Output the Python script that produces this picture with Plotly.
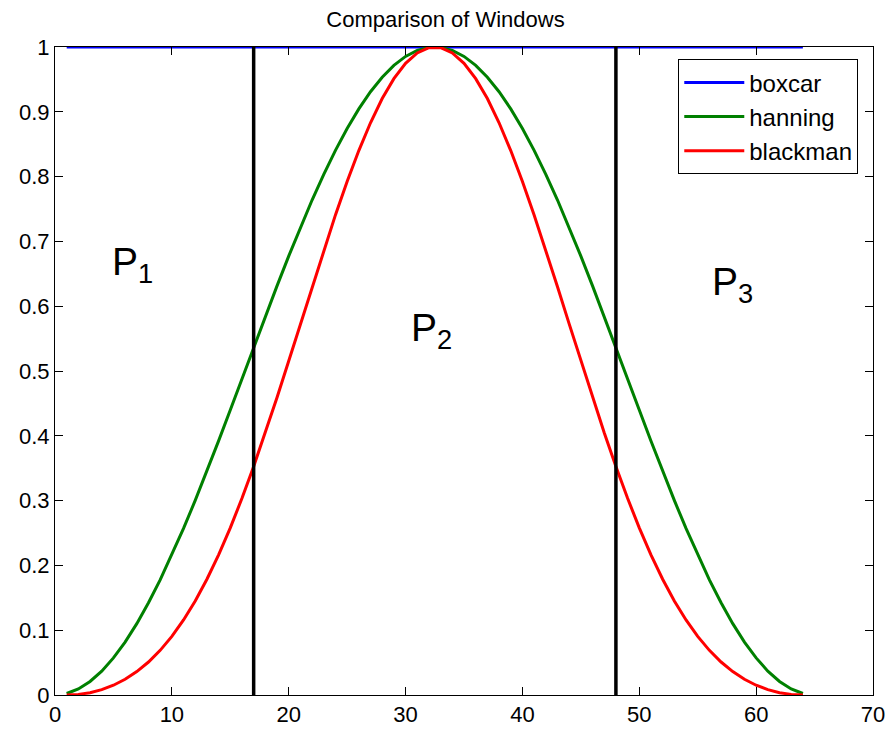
import plotly.graph_objects as go

n = list(range(1, 65))
boxcar = [1.0] * 64
hanning = [0.00233, 0.00930, 0.02088, 0.03684, 0.05727, 0.08163, 0.11016, 0.14232,
           0.17754, 0.21597, 0.25702, 0.30032, 0.34549, 0.39211, 0.43973, 0.48792,
           0.53622, 0.58418, 0.63135, 0.67730, 0.72161, 0.76384, 0.80356, 0.84047,
           0.87426, 0.90451, 0.93103, 0.95340, 0.97160, 0.98547, 0.99466, 0.99942,
           0.99942, 0.99466, 0.98547, 0.97160, 0.95340, 0.93103, 0.90451, 0.87426,
           0.84047, 0.80356, 0.76384, 0.72161, 0.67730, 0.63135, 0.58418, 0.53622,
           0.48792, 0.43973, 0.39211, 0.34549, 0.30032, 0.25702, 0.21597, 0.17754,
           0.14232, 0.11016, 0.08163, 0.05727, 0.03684, 0.02088, 0.00930, 0.00233]
blackman = [0.0000, 0.0009, 0.0036, 0.0083, 0.0151, 0.0243, 0.0361, 0.0509,
            0.0689, 0.0905, 0.1158, 0.1452, 0.1787, 0.2163, 0.2580, 0.3035,
            0.3526, 0.4046, 0.4592, 0.5155, 0.5727, 0.6300, 0.6864, 0.7409,
            0.7925, 0.8402, 0.8831, 0.9204, 0.9511, 0.9748, 0.9909, 0.9990,
            0.9990, 0.9909, 0.9748, 0.9511, 0.9204, 0.8831, 0.8402, 0.7925,
            0.7409, 0.6864, 0.6300, 0.5727, 0.5155, 0.4592, 0.4046, 0.3526,
            0.3035, 0.2580, 0.2163, 0.1787, 0.1452, 0.1158, 0.0905, 0.0689,
            0.0509, 0.0361, 0.0243, 0.0151, 0.0083, 0.0036, 0.0009, 0.0000]
split_points = [17, 48]
region_labels = ["P<sub>1</sub>", "P<sub>2</sub>", "P<sub>3</sub>"]
region_x = [6.6, 32.2, 58.0]
region_y = [0.664, 0.562, 0.633]

FONT = "Liberation Sans, Arial, Helvetica, sans-serif"

fig = go.Figure()
fig.add_trace(go.Scatter(x=n, y=boxcar, mode="lines", name="boxcar",
                         line=dict(color="#0000ff", width=3)))
fig.add_trace(go.Scatter(x=n, y=hanning, mode="lines", name="hanning",
                         line=dict(color="#008000", width=3)))
fig.add_trace(go.Scatter(x=n, y=blackman, mode="lines", name="blackman",
                         line=dict(color="#ff0000", width=3)))
for sp in split_points:
    fig.add_trace(go.Scatter(x=[sp, sp], y=[0, 1], mode="lines", showlegend=False,
                             line=dict(color="black", width=3.5), hoverinfo="skip"))

for lbl, xx, yy in zip(region_labels, region_x, region_y):
    fig.add_annotation(x=xx, y=yy, text=lbl, showarrow=False,
                       xanchor="center", yanchor="middle",
                       font=dict(size=39, color="black", family=FONT))

axis_common = dict(showline=True, linecolor="black", linewidth=1, mirror="ticks",
                   ticks="inside", ticklen=8, tickcolor="black", showgrid=False,
                   zeroline=False, automargin=False,
                   tickfont=dict(size=22, color="black", family=FONT))

fig.update_layout(
    width=891, height=733,
    margin=dict(l=55, r=18, t=47, b=38),
    paper_bgcolor="white", plot_bgcolor="white",
    title=dict(text="Comparison of Windows", x=0.5, xanchor="center",
               y=1 - 19 / 733, yanchor="middle", automargin=False,
               font=dict(size=22, color="black", family=FONT)),
    xaxis=dict(range=[0, 70], dtick=10, tick0=0, **axis_common),
    yaxis=dict(range=[0, 1], dtick=0.1, tick0=0, tickformat="~g", **axis_common),
    legend=dict(x=0.982, y=0.981, xanchor="right", yanchor="top",
                bordercolor="black", borderwidth=1, bgcolor="white",
                font=dict(size=24, color="black", family=FONT),
                itemwidth=60, tracegroupgap=0),
    showlegend=True,
)

fig.write_html("out.html")
